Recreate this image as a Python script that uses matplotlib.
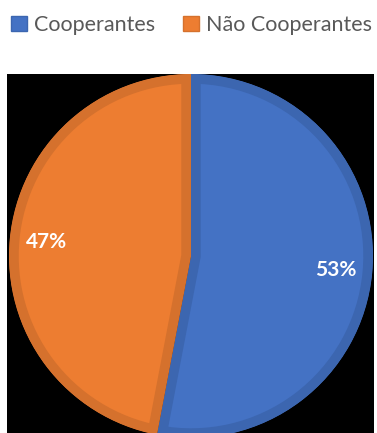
import matplotlib
matplotlib.use("Agg")
import matplotlib.pyplot as plt
from matplotlib.patches import Patch

categories = ["Cooperantes", "Não Cooperantes"]
values = [53, 47]
fill_colors = ["#4472C4", "#ED7D31"]
edge_colors = ["#3C66B0", "#D5712D"]


def main():
    plt.rcParams["font.family"] = ["Lato", "DejaVu Sans"]
    fig = plt.figure(figsize=(3.77, 4.33), dpi=100)
    fig.patch.set_facecolor("white")

    # black plot area; data units are pixels so the circle stays round
    ax = fig.add_axes([7 / 377, 0, 367 / 377, 359 / 433])
    wedges, texts, autotexts = ax.pie(
        values, colors=fill_colors, startangle=90, counterclock=False,
        center=(184, 177), radius=182, autopct="%1.0f%%", pctdistance=0.8,
        textprops=dict(color="white", fontsize=15, fontweight="bold"))
    for w, ec in zip(wedges, edge_colors):
        w.set_edgecolor(ec)
        w.set_linewidth(14)
        # keep only the inner half of the thick outline
        w.set_clip_on(True)
        w.set_clip_path(w)
    ax.set_xlim(0, 367)
    ax.set_ylim(0, 359)
    ax.set_aspect("auto")
    ax.set_frame_on(True)
    ax.set_facecolor("black")
    for s in ax.spines.values():
        s.set_visible(False)
    ax.set_xticks([])
    ax.set_yticks([])

    handles = [Patch(facecolor=c, edgecolor=e, linewidth=1)
               for c, e in zip(fill_colors, edge_colors)]
    fig.legend(handles, categories, loc="upper left", bbox_to_anchor=(-0.01, 1.0),
               ncol=2, frameon=False, fontsize=15.5, labelcolor="#595959",
               handlelength=0.75, handleheight=0.75, handletextpad=0.3,
               columnspacing=1.3, borderaxespad=0.3)

    fig.savefig("out.png", dpi=100)


if __name__ == "__main__":
    main()
